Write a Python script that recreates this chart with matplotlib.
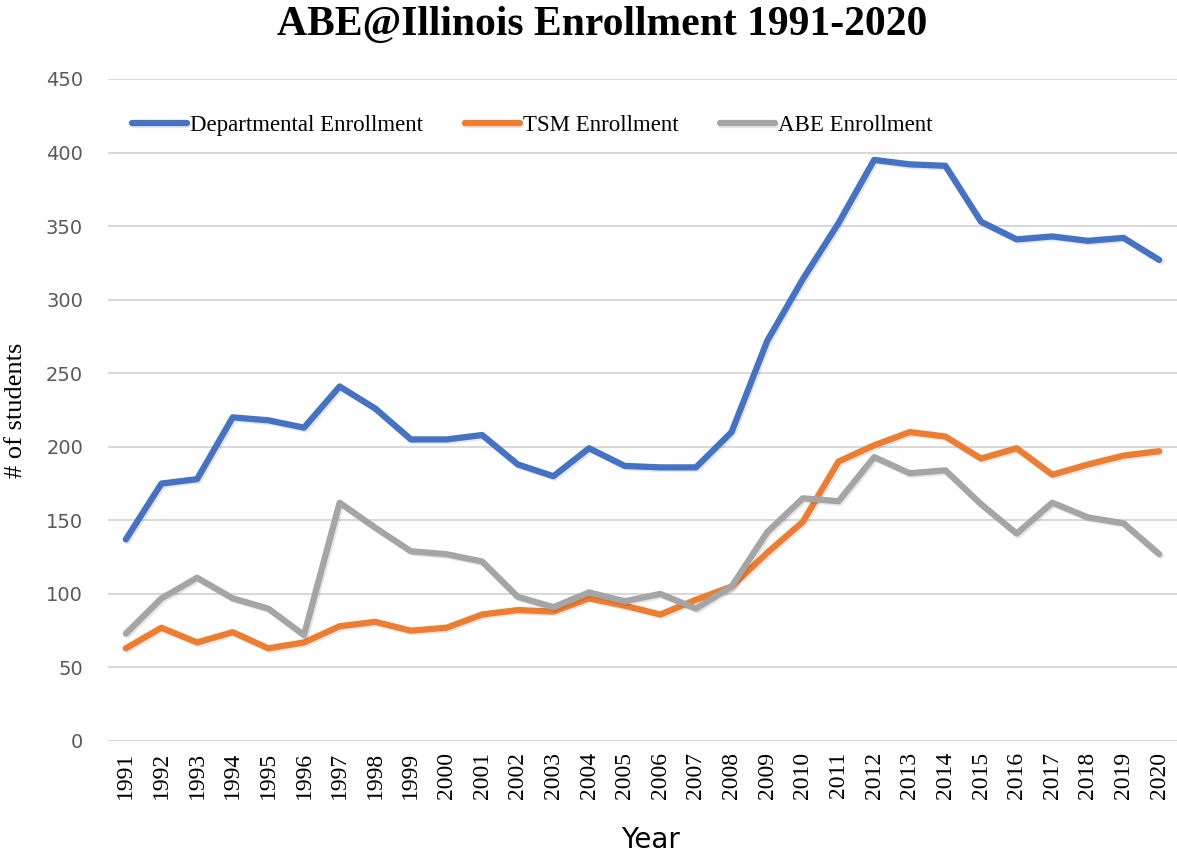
import matplotlib
matplotlib.use("Agg")
import matplotlib.pyplot as plt
import matplotlib.patheffects as pe

years = [str(y) for y in range(1991, 2021)]
departmental = [137, 175, 178, 220, 218, 213, 241, 226, 205, 205, 208, 188, 180, 199, 187,
                186, 186, 210, 272, 314, 352, 395, 392, 391, 353, 341, 343, 340, 342, 327]
tsm = [63, 77, 67, 74, 63, 67, 78, 81, 75, 77, 86, 89, 88, 97, 92,
       86, 96, 105, 128, 149, 190, 201, 210, 207, 192, 199, 181, 188, 194, 197]
abe = [73, 97, 111, 97, 90, 72, 162, 145, 129, 127, 122, 98, 91, 101, 95,
       100, 90, 105, 142, 165, 163, 193, 182, 184, 161, 141, 162, 152, 148, 127]
series_names = ["Departmental Enrollment", "TSM Enrollment", "ABE Enrollment"]
colors = ["#4472C4", "#ED7D31", "#A5A5A5"]

fig = plt.figure(figsize=(11.77, 8.57), dpi=100)
ax = fig.add_axes([108/1177, 1-741/857, (1177-108)/1177, (741-79)/857])

x = list(range(len(years)))
shadow = [pe.SimpleLineShadow(offset=(1.2, -1.2), shadow_color="#000000", alpha=0.1), pe.Normal()]
for vals, name, c in zip([departmental, tsm, abe], series_names, colors):
    ax.plot(x, vals, color=c, lw=4.5, label=name, solid_capstyle="round",
            solid_joinstyle="round", path_effects=shadow)

ax.set_xlim(-0.5, len(years) - 0.5)
ax.set_ylim(0, 450)
ax.set_yticks(range(0, 451, 50))
ax.set_xticks(x)
ax.set_xticklabels(years, rotation=90, family="Liberation Serif", fontsize=17)
ax.tick_params(axis="y", labelsize=14, colors="#595959", length=0, pad=18)
ax.tick_params(axis="x", length=0, pad=8, labelcolor="black")
for lab in ax.get_yticklabels():
    lab.set_family("DejaVu Sans")
ax.grid(axis="y", color="#D9D9D9", lw=1.5)
ax.set_axisbelow(True)
for s in ax.spines.values():
    s.set_visible(False)

ax.set_ylabel("# of students", family="Liberation Serif", fontsize=19)
ax.yaxis.set_label_coords(27/1177, 1-410/857, transform=fig.transFigure)
ax.set_xlabel("Year", family="DejaVu Sans", fontsize=20)
ax.xaxis.set_label_coords(0.553, 1-826/857, transform=fig.transFigure)

leg = ax.legend(loc="upper left", bbox_to_anchor=(0.003, 0.977), ncol=3, frameon=False,
                prop={"family": "Liberation Serif", "size": 16.5}, handlelength=2.4,
                handletextpad=0.15, columnspacing=1.8)

fig.suptitle("ABE@Illinois Enrollment 1991-2020", family="Liberation Serif",
             fontweight="bold", fontsize=30, x=0.512, y=0.993)

fig.savefig("out.png", dpi=100)
